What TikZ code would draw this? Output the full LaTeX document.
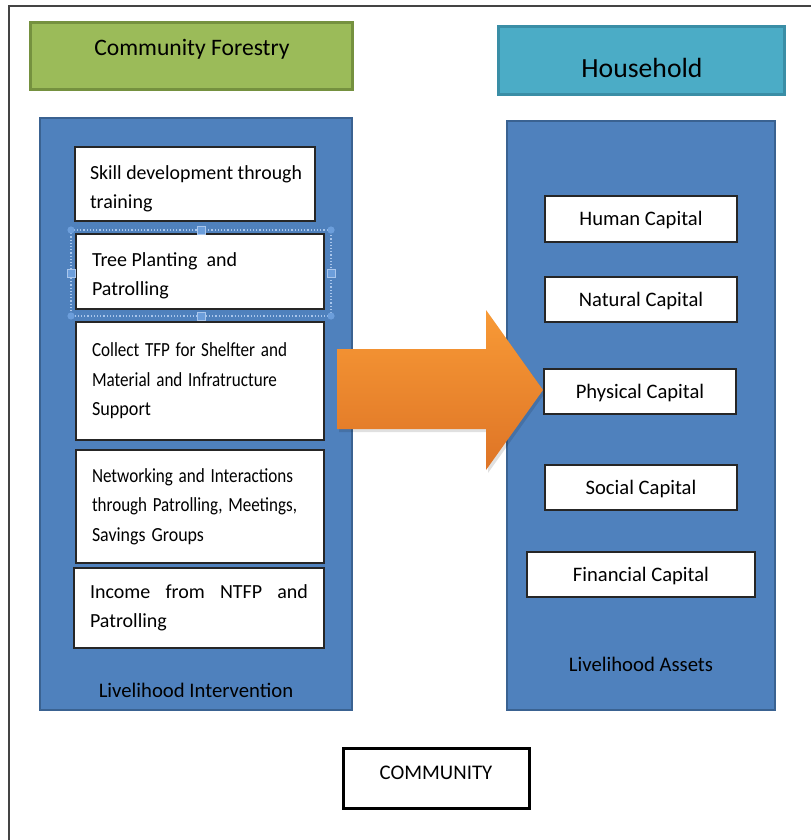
\documentclass[tikz,border=0pt]{standalone}
\usepackage{fontspec}
\usepackage{graphicx}
\setmainfont{Carlito}
% a line squeezed horizontally to a given width, height unchanged
\newcommand{\squeezeline}[2]{\resizebox{#1pt}{\height}{#2}}
\begin{document}
\begin{tikzpicture}[x=1pt,y=-1pt,
  every node/.style={inner sep=0pt, outer sep=0pt},
  panel/.style={draw=paneledge, line width=2.5, fill=panelblue, anchor=north west},
  wbox/.style={draw=black!85, line width=1.3, fill=white, anchor=north west,
    align=left, inner xsep=16, font=\fontsize{20}{29.5}\selectfont},
  boxtext/.style={anchor=west, align=left, font=\fontsize{20}{29.5}\selectfont},
  cbox/.style={draw=black!85, line width=1.3, fill=white, anchor=north west,
    font=\fontsize{20.6}{24}\selectfont, text depth=1pt},
  titletext/.style={font=\fontsize{20.7}{24}\selectfont},
  handle/.style={fill=handleblue, draw=handleedge, line width=0.6},
]
\definecolor{panelblue}{HTML}{4F81BD}
\definecolor{paneledge}{HTML}{3A6291}
\definecolor{forestgreen}{HTML}{9BBB59}
\definecolor{forestedge}{HTML}{75913F}
\definecolor{housecyan}{HTML}{4BACC6}
\definecolor{houseedge}{HTML}{3A8EA6}
\definecolor{arrowtop}{HTML}{F89A36}
\definecolor{arrowbot}{HTML}{DE7426}
\definecolor{handleblue}{HTML}{6C9EDB}
\definecolor{handleedge}{HTML}{A9C6EC}
\definecolor{frameline}{HTML}{444444}

\useasboundingbox (0,0) rectangle (811,840);

% outer frame (top and left edges)
\coordinate (frameBL) at (9,840);
\coordinate (frameTL) at (9,6);
\coordinate (frameTR) at (811,6);
\draw[frameline, line width=2] (frameBL) -- (frameTL) -- (frameTR);

% headers
\node[draw=forestedge, line width=3, fill=forestgreen, anchor=north west,
  minimum width=322, minimum height=67] (cf) at (30,23) {};
\node[font=\fontsize{23.6}{26}\selectfont] (cftext) at (192,49) {Community Forestry};
\node[draw=houseedge, line width=3, fill=housecyan, anchor=north west,
  minimum width=286, minimum height=68] (hh) at (498,27) {};
\node[font=\fontsize{27.7}{30}\selectfont] (hhtext) at (642,68) {Household};

% panels
\node[panel, minimum width=312, minimum height=592] (left) at (40,118) {};
\node[panel, minimum width=268, minimum height=589] (right) at (507,121) {};
\node[titletext] (lefttitle) at (196,690) {Livelihood Intervention};
\node[titletext] (righttitle) at (641,664) {Livelihood Assets};

% interventions
\node[wbox, minimum width=240, minimum height=74] (skill) at (75,147) {};
\node[boxtext] (skilltext) at (90,189)
  {\squeezeline{212}{Skill development through}\\training};
\node[wbox, text width=216, minimum height=75] (tree) at (76,234) {};
\node[boxtext] (treetext) at (92,276)
  {Tree Planting\ \ and\\Patrolling};
\node[wbox, text width=216, minimum height=118] (tfp) at (76,322)
  {\squeezeline{195}{Collect TFP for Shelfter and}\\
   \squeezeline{185}{Material and Infratructure}\\
   \squeezeline{59}{Support}};
\node[wbox, text width=216, minimum height=113] (net) at (76,450)
  {\squeezeline{201}{Networking and Interactions}\\
   \squeezeline{205}{through Patrolling, Meetings,}\\
   \squeezeline{112}{Savings Groups}};
\node[wbox, text width=218, minimum height=80] (income) at (74,568)
  {\hbox to 218pt{Income\hfill from\hfill NTFP\hfill and}\\Patrolling};

% selection frame around the second item
\draw[handleedge, line width=1.2, dotted] (71,230) rectangle (331,316);
\foreach \px/\py in {71/230,331/230,71/316,331/316}
  \fill[handleblue] (\px,\py) circle (3.6);
\foreach \px/\py in {201/230,201/316,71/273,331/273}
  \filldraw[handle] (\px-3.8,\py-3.8) rectangle (\px+3.8,\py+3.8);

% block arrow
\coordinate (a1) at (337,349);
\coordinate (a2) at (486,349);
\coordinate (a3) at (486,310);
\coordinate (a4) at (543,390);
\coordinate (a5) at (486,470);
\coordinate (a6) at (486,429);
\coordinate (a7) at (337,429);
\fill[black, opacity=0.12] ([shift={(2,3)}]a1) -- ([shift={(2,3)}]a2) -- ([shift={(2,3)}]a3)
  -- ([shift={(2,3)}]a4) -- ([shift={(2,3)}]a5) -- ([shift={(2,3)}]a6) -- ([shift={(2,3)}]a7) -- cycle;
\shade[top color=arrowtop, bottom color=arrowbot] (a1) -- (a2) -- (a3) -- (a4) -- (a5) -- (a6) -- (a7) -- cycle;

% assets
\node[cbox, minimum width=192, minimum height=46] (human) at (545,196) {Human Capital};
\node[cbox, minimum width=192, minimum height=45] (natural) at (545,277) {Natural Capital};
\node[cbox, minimum width=192, minimum height=45] (physical) at (544,369) {Physical Capital};
\node[cbox, minimum width=192, minimum height=45] (social) at (545,465) {Social Capital};
\node[cbox, minimum width=228, minimum height=45] (financial) at (527,552) {Financial Capital};

% community
\node[draw=black, line width=3, fill=white, anchor=north west,
  minimum width=186, minimum height=60] (community) at (343,748) {};
\node[font=\fontsize{20.8}{24}\selectfont] (commtext) at (436,773) {COMMUNITY};
\end{tikzpicture}
\end{document}
